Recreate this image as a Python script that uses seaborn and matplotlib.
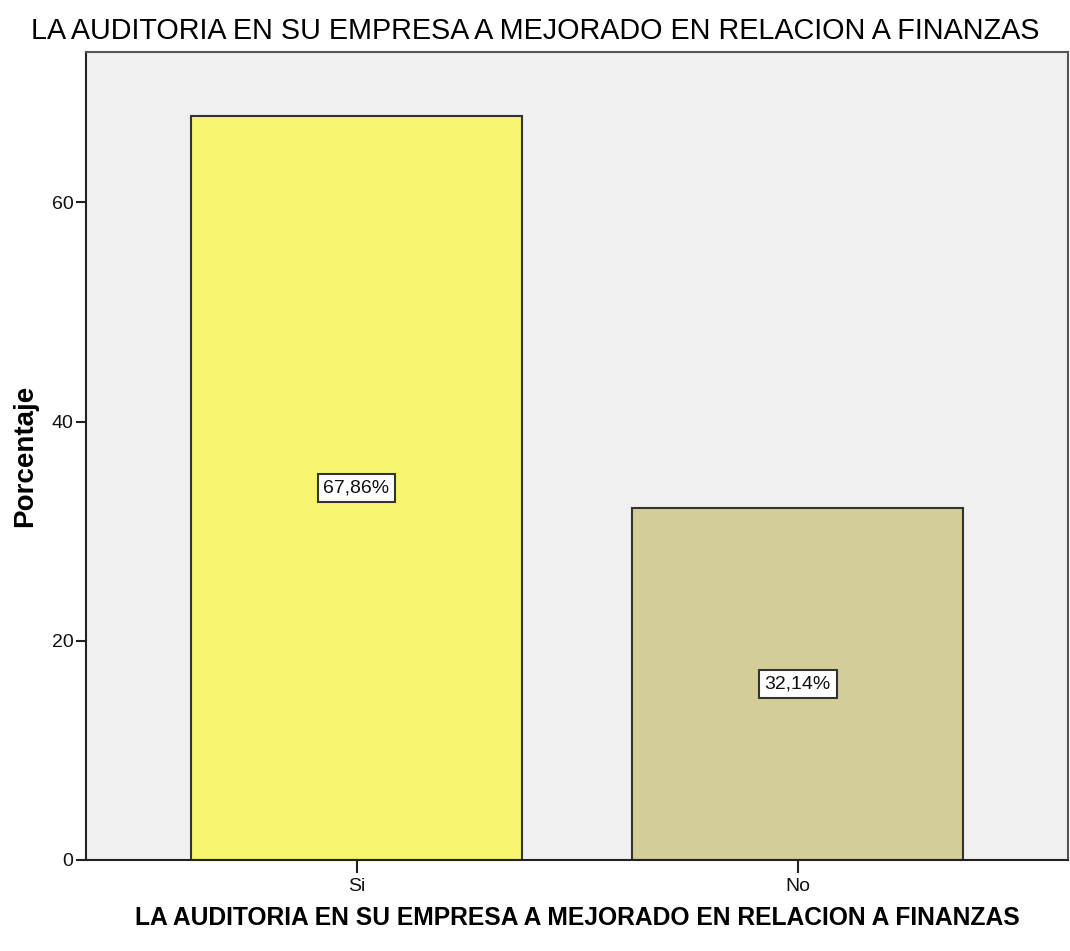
import numpy as np
import pandas as pd
import seaborn as sns
import matplotlib.pyplot as plt

# data
categorias = ['Si', 'No']
porcentajes = [67.86, 32.14]
etiquetas = ['67,86%', '32,14%']
colores = ['#F9F56F', '#D3CE97']
yticks = [0, 20, 40, 60]

titulo = 'LA AUDITORIA EN SU EMPRESA A MEJORADO EN RELACION A FINANZAS'

df = pd.DataFrame({'cat': categorias, 'pct': porcentajes})

sns.set_style('white')
plt.rcParams['font.family'] = ['Liberation Sans', 'DejaVu Sans']

fig = plt.figure(figsize=(10.70, 9.51), dpi=100)
ax = fig.add_axes([0.0804, 0.0957, 0.918, 0.850])
ax.set_facecolor('#F0F0F0')

sns.barplot(data=df, x='cat', y='pct', hue='cat', palette=colores, legend=False,
            width=0.75, saturation=1, edgecolor='#333333', linewidth=1.5, ax=ax)

for i, (v, t) in enumerate(zip(porcentajes, etiquetas)):
    ax.text(i, v / 2, t, ha='center', va='center', fontsize=14, color='#111111',
            bbox=dict(boxstyle='square,pad=0.3', facecolor='white', edgecolor='#333333', linewidth=1.5))

ax.set_xlim(-0.613, 1.613)
ax.set_ylim(0, 73.75)
ax.set_yticks(yticks)
ax.tick_params(axis='y', left=True, length=7, width=1.5, color='#222222', labelsize=14, labelcolor='#111111', pad=2)
ax.tick_params(axis='x', bottom=True, length=9, width=1.5, color='#222222', labelsize=14, labelcolor='#111111', pad=4)

for s in ['left', 'bottom']:
    ax.spines[s].set_color('#222222')
    ax.spines[s].set_linewidth(1.5)
for s in ['top', 'right']:
    ax.spines[s].set_color('#555555')
    ax.spines[s].set_linewidth(1.5)

ax.set_ylabel('Porcentaje', fontsize=20, fontweight='bold', color='black', labelpad=10)
ax.set_xlabel(titulo, fontsize=17.7, fontweight='bold', color='black', labelpad=8)
fig.text(0.5, 0.967, titulo, ha='center', va='center', fontsize=20.7, color='black')

fig.savefig('out.png', dpi=100)
